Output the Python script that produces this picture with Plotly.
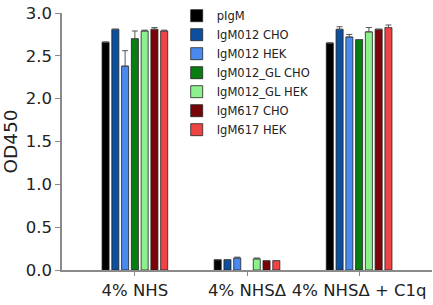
import plotly.graph_objects as go

categories = ["4% NHS", "4% NHSΔ", "4% NHSΔ + C1q"]
series_names = ["pIgM", "IgM012 CHO", "IgM012 HEK", "IgM012_GL CHO",
                "IgM012_GL HEK", "IgM617 CHO", "IgM617 HEK"]
series_colors = ["#000000", "#0b4f9e", "#4a8af0", "#0a7d12",
                 "#8cf08c", "#7a0508", "#f04444"]

values = {
    "pIgM":          [2.66, 0.12, 2.65],
    "IgM012 CHO":    [2.81, 0.12, 2.81],
    "IgM012 HEK":    [2.38, 0.14, 2.72],
    "IgM012_GL CHO": [2.70, None, 2.69],
    "IgM012_GL HEK": [2.79, 0.13, 2.78],
    "IgM617 CHO":    [2.81, 0.11, 2.81],
    "IgM617 HEK":    [2.79, 0.11, 2.83],
}
errors = {
    "pIgM":          [0.0, 0.0, 0.0],
    "IgM012 CHO":    [0.0, 0.0, 0.03],
    "IgM012 HEK":    [0.18, 0.01, 0.03],
    "IgM012_GL CHO": [0.09, 0.0, 0.0],
    "IgM012_GL HEK": [0.01, 0.01, 0.05],
    "IgM617 CHO":    [0.02, 0.0, 0.0],
    "IgM617 HEK":    [0.01, 0.0, 0.03],
}

FONT = "DejaVu Sans, Arial, sans-serif"

fig = go.Figure()
for name, color in zip(series_names, series_colors):
    fig.add_trace(go.Bar(
        name=name, x=categories, y=values[name],
        marker=dict(color=color, line=dict(color="#222222", width=0.8)),
        error_y=dict(type="data", array=errors[name],
                     arrayminus=[0] * len(categories),
                     color="#555555", thickness=1, width=3),
    ))

fig.update_layout(
    width=433, height=305,
    margin=dict(l=62, r=1, t=11, b=35),
    paper_bgcolor="white", plot_bgcolor="white",
    barmode="group", bargap=0.39, bargroupgap=0.28,
    font=dict(family=FONT, color="#222222"),
    legend=dict(x=0.31, y=1.046, xanchor="left", yanchor="top",
                font=dict(size=11.5, color="#222222", family=FONT),
                bgcolor="rgba(0,0,0,0)", tracegroupgap=0,
                itemwidth=30),
    showlegend=True,
)
fig.update_xaxes(
    range=[-0.65, 2.65], showline=True, linecolor="#8a8a8a", linewidth=1.5,
    ticks="outside", ticklen=4, tickcolor="#8a8a8a", tickwidth=1,
    tickfont=dict(size=16.5, color="#222222"), showgrid=False, zeroline=False,
)
fig.update_yaxes(
    range=[0, 3.0], dtick=0.5, tickformat=".1f",
    showline=True, linecolor="#8a8a8a", linewidth=1.5,
    ticks="outside", ticklen=5, tickcolor="#8a8a8a", tickwidth=1,
    tickfont=dict(size=16.5, color="#222222"), showgrid=False, zeroline=False,
    title=dict(text="OD450", font=dict(size=18.5, color="#222222"), standoff=6),
)

fig.write_html("out.html")
